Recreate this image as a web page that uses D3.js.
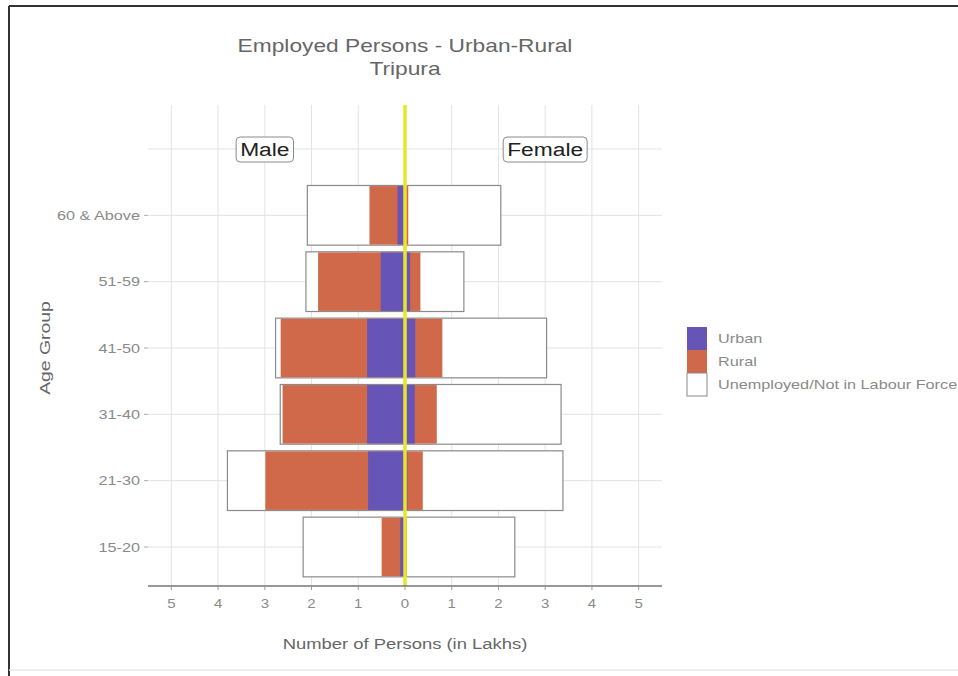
<!DOCTYPE html>
<html><head><meta charset="utf-8">
<script src="https://cdn.jsdelivr.net/npm/d3@7"></script>
<style>body{margin:0;background:#fff;font-family:"Liberation Sans",Arial,sans-serif}</style>
</head><body>
<svg id="c" width="958" height="676"></svg>
<script>
const ageGroups = ["15-20","21-30","31-40","41-50","51-59","60 & Above"];
// values in lakhs
const maleTotal    = [2.18, 3.80, 2.67, 2.77, 2.12, 2.09];
const maleEmployed = [0.50, 2.99, 2.62, 2.66, 1.86, 0.76]; // urban + rural
const maleUrban    = [0.10, 0.79, 0.81, 0.81, 0.52, 0.16];
const femaleTotal    = [2.35, 3.38, 3.34, 3.03, 1.26, 2.05];
const femaleEmployed = [0.04, 0.38, 0.68, 0.80, 0.33, 0.07];
const femaleUrban    = [0.01, 0.05, 0.21, 0.22, 0.11, 0.02];
const xTicks = [-5,-4,-3,-2,-1,0,1,2,3,4,5];
const legendItems = ["Urban","Rural","Unemployed/Not in Labour Force"];
const colors = {Urban:"#6654b6", Rural:"#d0684a", Unemployed:"#ffffff"};

const svg = d3.select("#c");
// helper: horizontally stretched text
function txt(parent, x, y, str, size, anchor, sx, fill, rot){
  const gg = parent.append("g").attr("transform",`translate(${x},${y})` + (rot?` rotate(${rot})`:"") + ` scale(${sx},1)`);
  return gg.append("text").attr("x",0).attr("y",0).attr("text-anchor",anchor)
    .attr("font-size",size).attr("fill",fill).text(str);
}
// frame
svg.append("rect").attr("x",0).attr("y",0).attr("width",958).attr("height",676).attr("fill","#fff");
svg.append("line").attr("x1",9).attr("x2",9).attr("y1",6).attr("y2",676).attr("stroke","#333").attr("stroke-width",2);
svg.append("line").attr("x1",9).attr("x2",958).attr("y1",6).attr("y2",6).attr("stroke","#333").attr("stroke-width",2);
svg.append("line").attr("x1",9).attr("x2",958).attr("y1",670).attr("y2",670).attr("stroke","#e6e6e6").attr("stroke-width",1.5);

const x = d3.scaleLinear().domain([-5.5,5.5]).range([148,662]);
const yDomain = ageGroups.concat(["__label"]);
const y = d3.scalePoint().domain(yDomain).range([547,149]);
const step = y.step();
const barH = step*0.9;
const plotTop = 105, plotBottom = 586;

// gridlines
const g = svg.append("g");
g.selectAll(".vg").data(xTicks).join("line")
  .attr("x1",d=>x(d)).attr("x2",d=>x(d)).attr("y1",plotTop).attr("y2",plotBottom)
  .attr("stroke","#e3e3e3").attr("stroke-width",1);
g.selectAll(".hg").data(yDomain).join("line")
  .attr("x1",148).attr("x2",662).attr("y1",d=>y(d)).attr("y2",d=>y(d))
  .attr("stroke","#e3e3e3").attr("stroke-width",1);

// bars
const rows = ageGroups.map((a,i)=>({a,i}));
function drawSide(total, emp, urb, sign){
  const bars = svg.append("g");
  bars.selectAll("rect.t").data(rows).join("rect")
    .attr("x",d=>Math.min(x(0),x(sign*total[d.i]))).attr("width",d=>Math.abs(x(sign*total[d.i])-x(0)))
    .attr("y",d=>y(d.a)-barH/2).attr("height",barH)
    .attr("fill","#fff").attr("stroke","#8a8a8a").attr("stroke-width",1.2);
  bars.selectAll("rect.r").data(rows).join("rect")
    .attr("x",d=>Math.min(x(0),x(sign*emp[d.i]))).attr("width",d=>Math.abs(x(sign*emp[d.i])-x(0)))
    .attr("y",d=>y(d.a)-barH/2+0.6).attr("height",barH-1.2)
    .attr("fill",colors.Rural);
  bars.selectAll("rect.u").data(rows).join("rect")
    .attr("x",d=>Math.min(x(0),x(sign*urb[d.i]))).attr("width",d=>Math.abs(x(sign*urb[d.i])-x(0)))
    .attr("y",d=>y(d.a)-barH/2+0.6).attr("height",barH-1.2)
    .attr("fill",colors.Urban);
}
drawSide(maleTotal, maleEmployed, maleUrban, -1);
drawSide(femaleTotal, femaleEmployed, femaleUrban, 1);

// zero line
svg.append("line").attr("x1",x(0)).attr("x2",x(0)).attr("y1",plotTop).attr("y2",plotBottom)
  .attr("stroke","#e8e62a").attr("stroke-width",3.5);

// x axis
svg.append("line").attr("x1",148).attr("x2",662).attr("y1",plotBottom).attr("y2",plotBottom)
  .attr("stroke","#333").attr("stroke-width",1.2);
svg.selectAll(".xt").data(xTicks).join("line")
  .attr("x1",d=>x(d)).attr("x2",d=>x(d)).attr("y1",plotBottom).attr("y2",plotBottom+4)
  .attr("stroke","#999");
xTicks.forEach(d=>txt(svg, x(d), plotBottom+22, Math.abs(d), 12.5, "middle", 1.2, "#8a8a8a"));
// y axis
svg.selectAll(".yt").data(ageGroups).join("line")
  .attr("x1",144).attr("x2",148).attr("y1",d=>y(d)).attr("y2",d=>y(d)).attr("stroke","#aaa");
ageGroups.forEach(d=>txt(svg, 140, y(d)+4.5, d, 12.5, "end", 1.3, "#8a8a8a"));

// titles
txt(svg, 405, 52, "Employed Persons - Urban-Rural", 17.5, "middle", 1.3, "#666");
txt(svg, 405, 75, "Tripura", 17.5, "middle", 1.3, "#666");
txt(svg, 405, 649, "Number of Persons (in Lakhs)", 15.5, "middle", 1.19, "#666");
txt(svg, 50, 348, "Age Group", 15.5, "middle", 1.25, "#666", -90);

// Male / Female labels
[["Male",-3],["Female",3]].forEach(([t,v])=>{
  const lg = svg.append("g");
  const tw = txt(lg, x(v), y("__label")+7, t, 19, "middle", 1.2, "#222");
  const w = tw.node().getComputedTextLength()*1.2;
  lg.insert("rect",":first-child").attr("x",x(v)-w/2-4).attr("y",y("__label")-12).attr("width",w+8).attr("height",25)
    .attr("rx",4).attr("fill","#fff").attr("stroke","#8a8a8a").attr("stroke-width",1);
});

// legend
const lgX = 687, lgY = 327, kh = 23;
const leg = svg.append("g");
legendItems.forEach((t,i)=>{
  const col = i===0?colors.Urban:(i===1?colors.Rural:colors.Unemployed);
  leg.append("rect").attr("x",lgX).attr("y",lgY+i*kh).attr("width",20).attr("height",kh)
    .attr("fill",col).attr("stroke",i===2?"#8a8a8a":"none");
  txt(leg, lgX+31, lgY+i*kh+kh/2+4.5, t, 12.5, "start", 1.3, "#8a8a8a");
});
</script>
</body></html>
